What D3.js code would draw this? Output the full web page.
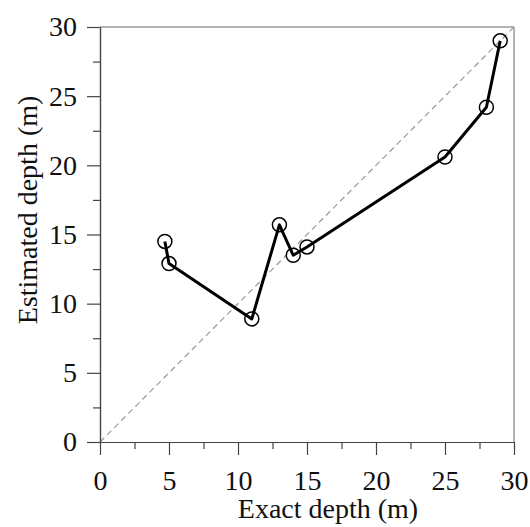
<!DOCTYPE html>
<html lang="en">
<head>
<meta charset="utf-8">
<title>Estimated vs exact depth</title>
<script src="https://d3js.org/d3.v7.min.js"></script>
<style>
  body { margin: 0; background: #fff; }
  text { font-family: "Liberation Serif", "Times New Roman", serif; fill: #111; }
</style>
</head>
<body>
<script>
// exact depth (m) vs estimated depth (m)
var exactDepth = [4.7, 5.0, 11.0, 13.0, 14.0, 15.0, 25.0, 28.0, 29.0];
var estDepth   = [14.5, 12.9, 8.9, 15.7, 13.5, 14.1, 20.6, 24.2, 29.0];
var majorTicks = [0, 5, 10, 15, 20, 25, 30];
var minorTicks = [2.5, 7.5, 12.5, 17.5, 22.5, 27.5];

var w = 530, h = 527;
var mLeft = 100, mRight = 514, mTop = 27, mBottom = 442;

var points = exactDepth.map(function(d, i) { return {x: d, y: estDepth[i]}; });

var x = d3.scaleLinear().domain([0, 30]).range([mLeft, mRight]);
var y = d3.scaleLinear().domain([0, 30]).range([mBottom, mTop]);

var svg = d3.select("body").append("svg")
    .attr("width", w)
    .attr("height", h);

// frame (top and right)
svg.append("path")
   .attr("d", "M" + mLeft + "," + mTop + "H" + mRight + "V" + mBottom)
   .attr("fill", "none")
   .attr("stroke", "#666")
   .attr("stroke-width", 1);

// 1:1 line
svg.append("line")
   .attr("x1", x(0)).attr("y1", y(0))
   .attr("x2", x(30)).attr("y2", y(30))
   .attr("stroke", "#999")
   .attr("stroke-width", 1.2)
   .attr("stroke-dasharray", "6,4");

// axes
function styleAxis(g) {
  g.select(".domain").attr("stroke", "#444").attr("stroke-width", 1.2);
  g.selectAll(".tick line").attr("stroke", "#444").attr("stroke-width", 1.2);
  g.selectAll("text")
   .style("font-family", '"Liberation Serif", serif')
   .style("font-size", "28px")
   .attr("fill", "#111");
}

var xAxis = svg.append("g")
   .attr("transform", "translate(0," + mBottom + ")")
   .call(d3.axisBottom(x).tickValues(majorTicks).tickSize(13).tickPadding(15).tickSizeOuter(0));
styleAxis(xAxis);
var xMinor = svg.append("g")
   .attr("transform", "translate(0," + mBottom + ")")
   .call(d3.axisBottom(x).tickValues(minorTicks).tickSize(7).tickFormat("").tickSizeOuter(0));
styleAxis(xMinor);

var yAxis = svg.append("g")
   .attr("transform", "translate(" + mLeft + ",0)")
   .call(d3.axisLeft(y).tickValues(majorTicks).tickSize(13).tickPadding(10).tickSizeOuter(0));
styleAxis(yAxis);
var yMinor = svg.append("g")
   .attr("transform", "translate(" + mLeft + ",0)")
   .call(d3.axisLeft(y).tickValues(minorTicks).tickSize(7).tickFormat("").tickSizeOuter(0));
styleAxis(yMinor);

// data line
var line = d3.line()
   .x(function(d) { return x(d.x); })
   .y(function(d) { return y(d.y); });

svg.append("path")
   .datum(points)
   .attr("d", line)
   .attr("fill", "none")
   .attr("stroke", "#000")
   .attr("stroke-width", 3)
   .attr("stroke-linejoin", "round");

svg.selectAll("circle")
   .data(points)
   .enter()
   .append("circle")
   .attr("cx", function(d) { return x(d.x); })
   .attr("cy", function(d) { return y(d.y); })
   .attr("r", 7)
   .attr("fill", "none")
   .attr("stroke", "#000")
   .attr("stroke-width", 1.5);

// labels
svg.append("text")
   .attr("x", 328)
   .attr("y", 518)
   .attr("text-anchor", "middle")
   .style("font-size", "28px")
   .text("Exact depth (m)");

svg.append("text")
   .attr("transform", "translate(37,210) rotate(-90)")
   .attr("text-anchor", "middle")
   .style("font-size", "28px")
   .text("Estimated depth (m)");
</script>
</body>
</html>
